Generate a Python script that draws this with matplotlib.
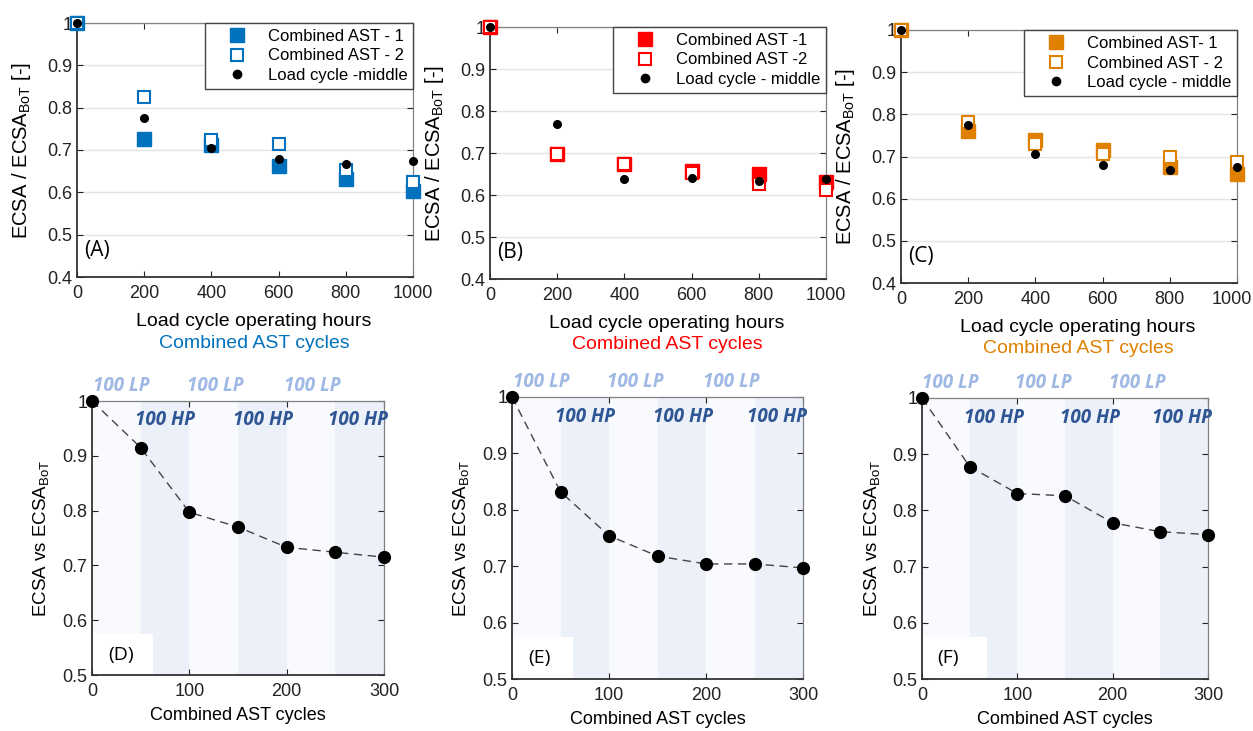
import matplotlib
matplotlib.use("Agg")
import matplotlib.pyplot as plt
from matplotlib.lines import Line2D
from matplotlib.patches import Rectangle
from matplotlib.transforms import ScaledTranslation

plt.rcParams["font.family"] = ["Liberation Sans", "DejaVu Sans"]
plt.rcParams["mathtext.default"] = "regular"

# ---- data: top row (load cycle hours) ----
hours = [0, 200, 400, 600, 800, 1000]

a_ast1 = [1.0, 0.727, 0.712, 0.663, 0.631, 0.604]
a_ast2 = [1.0, 0.825, 0.723, 0.713, 0.653, 0.625]
a_load = [1.0, 0.775, 0.704, 0.678, 0.666, 0.674]

b_ast1 = [1.0, 0.698, 0.673, 0.656, 0.650, 0.632]
b_ast2 = [1.0, 0.698, 0.673, 0.652, 0.626, 0.612]
b_load = [1.0, 0.770, 0.637, 0.641, 0.633, 0.637]

c_ast1 = [1.0, 0.761, 0.738, 0.716, 0.676, 0.658]
c_ast2 = [1.0, 0.781, 0.730, 0.706, 0.700, 0.686]
c_load = [1.0, 0.775, 0.705, 0.679, 0.667, 0.675]

# ---- data: bottom row (combined AST cycles) ----
cycles = [0, 50, 100, 150, 200, 250, 300]
d_ecsa = [1.0, 0.915, 0.797, 0.770, 0.733, 0.724, 0.715]
e_ecsa = [1.0, 0.832, 0.754, 0.718, 0.704, 0.704, 0.697]
f_ecsa = [1.0, 0.878, 0.830, 0.826, 0.778, 0.762, 0.757]

lp_bands = [(0, 50), (100, 150), (200, 250)]
hp_bands = [(50, 100), (150, 200), (250, 300)]

top_panels = [
    ("(A)", a_ast1, a_ast2, a_load, "#0072BD",
     ["Combined AST - 1", "Combined AST - 2", "Load cycle -middle"]),
    ("(B)", b_ast1, b_ast2, b_load, "#FF0000",
     ["Combined AST -1", "Combined AST -2", "Load cycle - middle"]),
    ("(C)", c_ast1, c_ast2, c_load, "#E08000",
     ["Combined AST- 1", "Combined AST - 2", "Load cycle - middle"]),
]
bottom_panels = [("(D)", d_ecsa, 63), ("(E)", e_ecsa, 63), ("(F)", f_ecsa, 68)]

W, H = 1253, 731
top_boxes = [(77, 23, 413, 277), (490, 27, 826, 279), (901, 30, 1237, 283)]
bot_boxes = [(92, 401, 384, 675), (512, 397, 803, 679), (922, 398, 1208, 679)]


def px_axes(fig, box):
    x0, y0, x1, y1 = box
    return fig.add_axes([x0 / W, 1 - y1 / H, (x1 - x0) / W, (y1 - y0) / H])


def style_box(ax):
    ax.tick_params(direction="in", top=True, right=True, labelsize=13,
                   colors="#222222", length=4, width=0.8)
    ax.tick_params(axis="x", pad=6)
    for s in ["left", "bottom"]:
        ax.spines[s].set_color("#333333")
        ax.spines[s].set_linewidth(1.3)
    for s in ["top", "right"]:
        ax.spines[s].set_color("#808080")
        ax.spines[s].set_linewidth(0.9)


fig = plt.figure(figsize=(W / 100, H / 100), dpi=100)

top_axes = []
for (lab, s1, s2, sl, col, names), box in zip(top_panels, top_boxes):
    ax = px_axes(fig, box)
    top_axes.append(ax)
    ax.set_xlim(0, 1000)
    ax.set_ylim(0.4, 1.0)
    ax.set_xticks(hours)
    ax.set_yticks([0.4, 0.5, 0.6, 0.7, 0.8, 0.9, 1.0])
    ax.set_yticklabels(["0.4", "0.5", "0.6", "0.7", "0.8", "0.9", "1"])
    ax.yaxis.grid(True, color="#E4E4E4", lw=1.0)
    ax.set_axisbelow(True)
    style_box(ax)
    ax.plot(hours, s1, ls="none", marker="s", ms=9.5, color=col, clip_on=False, zorder=3)
    ax.plot(hours, s2, ls="none", marker="s", ms=8, mfc="white", mec=col, mew=1.5,
            clip_on=False, zorder=4)
    ax.plot(hours, sl, ls="none", marker="o", ms=5.5, color="black", clip_on=False, zorder=5)
    handles = [
        Line2D([], [], ls="none", marker="s", ms=10, color=col),
        Line2D([], [], ls="none", marker="s", ms=8, mfc="white", mec=col, mew=1.5),
        Line2D([], [], ls="none", marker="o", ms=6, color="black"),
    ]
    leg = ax.legend(handles, names, loc="upper right", bbox_to_anchor=(1, 1),
                    borderaxespad=0, fontsize=12, numpoints=1, handlelength=3.1,
                    handletextpad=0.3, borderpad=0.35, labelspacing=0.28,
                    fancybox=False, framealpha=1)
    leg.get_frame().set_edgecolor("#444444")
    leg.get_frame().set_linewidth(1.0)
    ax.set_ylabel(r"ECSA / ECSA$_{BoT}$ [-]", fontsize=14.5)
    ax.yaxis.set_label_coords(-0.13, 0.5)
    ax.text(0.527, -45 / 254, "Load cycle operating hours", transform=ax.transAxes,
            ha="center", va="center", fontsize=14)
    ax.text(0.527, -66 / 254, "Combined AST cycles", transform=ax.transAxes,
            ha="center", va="center", fontsize=14, color=col)
    ax.text(0.02, 0.106, lab, transform=ax.transAxes, ha="left", va="center",
            fontsize=15, family="Open Sans")

# last tick label of panel C sits on the figure edge: nudge it left a bit
last = top_axes[2].xaxis.get_major_ticks()[-1].label1
last.set_transform(last.get_transform() + ScaledTranslation(-4 / 72, 0, fig.dpi_scale_trans))

for (lab, vals, boxw), box in zip(bottom_panels, bot_boxes):
    ax = px_axes(fig, box)
    ax.set_xlim(0, 300)
    ax.set_ylim(0.5, 1.0)
    for a, b in lp_bands:
        ax.axvspan(a, b, color="#F9FAFE", lw=0, zorder=0)
    for a, b in hp_bands:
        ax.axvspan(a, b, color="#EBF0F9", lw=0, zorder=0)
    ax.add_patch(Rectangle((0, 0.5), boxw, 0.075, facecolor="white", lw=0, zorder=0.5))
    ax.set_xticks([0, 100, 200, 300])
    ax.set_yticks([0.5, 0.6, 0.7, 0.8, 0.9, 1.0])
    ax.set_yticklabels(["0.5", "0.6", "0.7", "0.8", "0.9", "1"])
    style_box(ax)
    ax.plot(cycles, vals, ls=(0, (6, 4)), lw=1.0, color="#444444", marker="o",
            ms=8.5, mfc="black", mec="black", clip_on=False, zorder=3)
    for xc in [30, 127, 226]:
        ax.text(xc, 1.027, "100 LP", ha="center", va="center", fontsize=13.5,
                family="Open Sans", weight="bold", style="italic", color="#9FB9E4",
                clip_on=False)
    for xc in [75, 176, 273]:
        ax.text(xc, 0.965, "100 HP", ha="center", va="center", fontsize=13.5,
                family="Open Sans", weight="bold", style="italic", color="#2E5594",
                clip_on=False, zorder=4)
    ax.set_ylabel(r"ECSA vs ECSA$_{BoT}$", fontsize=13.5)
    ax.yaxis.set_label_coords(-0.14, 0.5)
    ax.set_xlabel("Combined AST cycles", fontsize=13)
    ax.xaxis.set_label_coords(0.5, -0.115)
    ax.text(0.055, 0.073, lab, transform=ax.transAxes, ha="left", va="center",
            fontsize=14, family="Open Sans")

fig.savefig("out.png", dpi=100, facecolor="white")
